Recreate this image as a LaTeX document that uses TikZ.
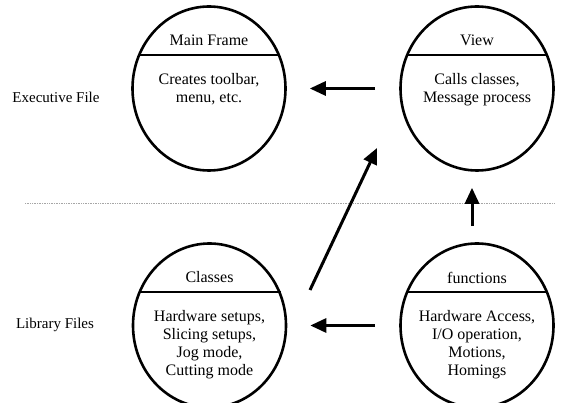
\documentclass[tikz,border=0pt]{standalone}
\usepackage{fontspec}
\setmainfont{Liberation Serif}
\usepackage{tikz}
\usetikzlibrary{arrows.meta}
\usetikzlibrary{calc,shapes.geometric}
\tikzset{>={Triangle[length=16,width=14]}}

\begin{document}
\begin{tikzpicture}[x=1pt,y=1pt,
    bubble/.style={draw,ellipse,line width=2.6pt,minimum width=153,minimum height=164,inner sep=0pt},
    divider/.style={line width=2pt},
    flow/.style={->,line width=3pt},
    txt/.style={font=\fontsize{16}{18}\selectfont,inner sep=0pt,align=center},
    side/.style={font=\fontsize{15}{18}\selectfont,inner sep=0pt}]
        \useasboundingbox (0,0) rectangle (561,403);

        \def\bubble#1#2#3#4{%
            \node[bubble] (#1) at (#2) {};
            \draw[divider] ($(#1.center)+(-71,33)$) -- ($(#1.center)+(71,33)$);
            \node[txt] (#1-head) at ($(#1.center)+(0,48)$) {#3};
            \node[txt,anchor=north] (#1-body) at ($(#1.center)+(0,15)$) {#4};
        }

        % COORDINATES
        \coordinate (sep-w) at (25,200);
        \coordinate (sep-e) at (555,200);

        % SEPARATOR
        \draw[gray!70,densely dotted,line width=0.7pt] (sep-w) -- (sep-e);

        % CIRCLES
        \bubble{main}{209,314.5}{Main Frame}{Creates toolbar,\\menu, etc.}
        \bubble{view}{477,314.5}{View}{Calls classes,\\Message process}
        \bubble{classes}{209.5,77.5}{Classes}{Hardware setups,\\Slicing setups,\\Jog mode,\\Cutting mode}
        \bubble{functions}{477,77.5}{functions}{Hardware Access,\\I/O operation,\\Motions,\\Homings}

        % LABELS
        \node[side] (exec) at (56,306) {Executive File};
        \node[side] (lib) at (55,78) {Library Files};

        % ARROWS
        \draw[flow,shorten <=24,shorten >=23] (view.west) -- (main.east);
        \draw[flow,shorten <=24,shorten >=23] (functions.west) -- (classes.east);
        \draw[flow,shorten <=16,shorten >=16] ([xshift=-5]functions.north) -- ([xshift=-5]view.south);
        \draw[flow] ([shift={(100.5,35.5)}]classes.center) -- ([shift={(-100,-59.5)}]view.center);

    \end{tikzpicture}
\end{document}
